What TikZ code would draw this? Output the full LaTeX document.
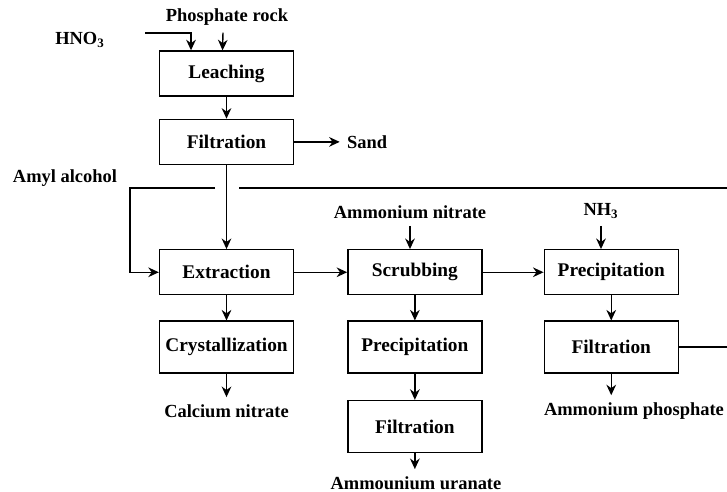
\documentclass[tikz,border=0pt]{standalone}
\usepackage{fontspec}
\setmainfont{Liberation Serif}
\usetikzlibrary{arrows.meta, positioning}

\begin{document}
\begin{tikzpicture}[
    x=0.02cm, y=-0.02cm,
    node distance=0.5cm and 1.06cm,
    unit/.style={rectangle, draw, line width=0.8pt, minimum width=2.68cm, minimum height=0.9cm, align=center, font=\fontsize{11}{13}\selectfont\bfseries},
    tallunit/.style={unit, minimum height=1.04cm},
    stream/.style={inner sep=4pt, font=\fontsize{10.5}{12}\selectfont\bfseries},
    line/.style={line width=0.8pt},
    arrow/.style={line, -{Stealth[length=6pt, width=5.5pt]}}
]
\useasboundingbox (0,0) rectangle (727,492);
% leaching train
\node[unit] (leach) at (226.5,73.5) {Leaching};
\node[unit, below=0.44cm of leach] (filt1) {Filtration};
\node[unit, below=1.68cm of filt1] (extr) {Extraction};
\node[tallunit, below=of extr] (cryst) {Crystallization};
% uranium recovery
\node[unit, right=of extr] (scrub) {Scrubbing};
\node[tallunit, below=of scrub] (prec2) {Precipitation};
\node[tallunit, below=0.52cm of prec2] (filt2) {Filtration};
% phosphate recovery
\node[unit, right=1.22cm of scrub] (prec3) {Precipitation};
\node[tallunit, below=of prec3] (filt3) {Filtration};
% feeds and products
\node[stream] (rock) at (227,17) {Phosphate rock};
\node[stream] (hno3) at (80,40) {HNO\textsubscript{3}};
\node[stream, right=0.91cm of filt1] (sand) {Sand};
\node[stream] (amyl) at (65,178) {Amyl alcohol};
\node[stream] (amnit) at (410,212) {Ammonium nitrate};
\node[stream] (nh3) at (601,211) {NH\textsubscript{3}};
\node[stream] (cano3) at (226.5,411) {Calcium nitrate};
\node[stream] (uran) at (416,483) {Ammounium uranate};
\node[stream] (amphos) at (634,411) {Ammonium phosphate};
% recycle loop
\coordinate (hno3in) at (145,33);
\coordinate (recL) at (130,188);
\coordinate (gapL) at (215,188);
\coordinate (gapR) at (239,188);
\coordinate (recR) at (740,188);

\draw[arrow] (hno3in) -| ([xshift=-0.71cm]leach.north);
\draw[arrow] ([xshift=-0.08cm]rock.south) -- ([xshift=-0.08cm]leach.north);
\draw[arrow] (leach) -- (filt1);
\draw[arrow] (filt1) -- (sand);
\draw[arrow] (filt1) -- (extr);
\draw[arrow] (gapL) -- (recL) |- (extr);
\draw[line] (filt3) -| (recR) -- (gapR);
\draw[arrow] (extr) -- (scrub);
\draw[arrow] (scrub) -- (prec3);
\draw[arrow] (extr) -- (cryst);
\draw[arrow] (cryst) -- (cano3);
\draw[arrow] (amnit) -- (amnit |- scrub.north);
\draw[arrow] (scrub) -- (prec2);
\draw[arrow] (prec2) -- (filt2);
\draw[arrow] (filt2) -- (filt2 |- uran.north);
\draw[arrow] (nh3) -- (nh3 |- prec3.north);
\draw[arrow] (prec3) -- (filt3);
\draw[arrow] (filt3) -- (filt3 |- amphos.north);
\end{tikzpicture}
\end{document}
